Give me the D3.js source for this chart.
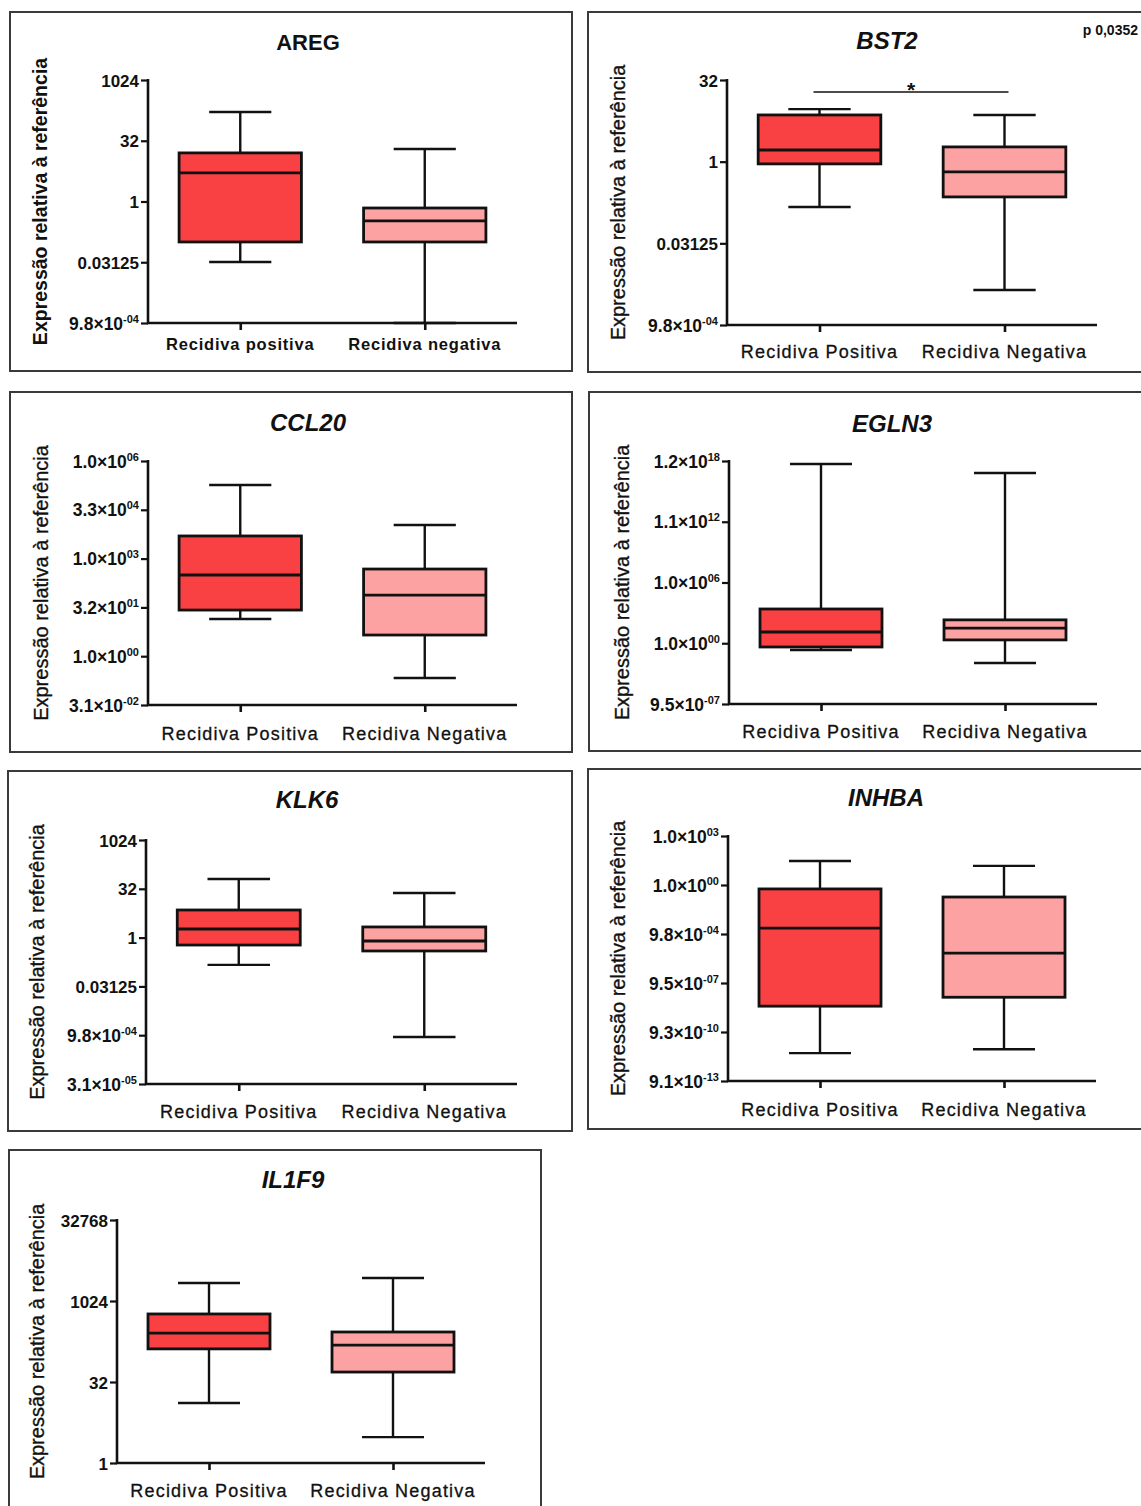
<!DOCTYPE html>
<html>
<head>
<meta charset="utf-8">
<script src="https://cdn.jsdelivr.net/npm/d3@7"></script>
<style>
  html, body { margin: 0; padding: 0; background: #fff; }
  svg { display: block; }
  text { font-family: "Liberation Sans", Arial, Helvetica, sans-serif; fill: #111; }
</style>
</head>
<body>
<svg id="chart" width="1141" height="1506"></svg>
<script>
// ---------- DATA ----------
const categories = ["Recidiva Positiva", "Recidiva Negativa"];
const aregCategories = ["Recidiva positiva", "Recidiva negativa"];

// box stats: [min, Q1, median, Q3, max]
const aregPositive = [0.0317, 0.0994, 5.10, 16.0, 165];
const aregNegative = [0.000977, 0.0994, 0.33, 0.69, 20.0];
const bst2Positive = [0.146, 0.91, 1.64, 7.26, 9.3];
const bst2Negative = [0.0043, 0.224, 0.646, 1.87, 7.26];
const ccl20Positive = [14.0, 26.5, 320, 5110, 190000];
const ccl20Negative = [0.213, 4.5, 77, 488, 11100];
const egln3Positive = [0.218, 0.426, 13, 2490, 5.76e17];
const egln3Negative = [0.011, 2.14, 32, 208, 7.5e16];
const klk6Positive = [0.144, 0.59, 1.84, 7.1, 64];
const klk6Negative = [0.00086, 0.387, 0.785, 2.13, 23.8];
const inhbaPositive = [4.7e-11, 3.6e-8, 0.00224, 0.574, 29.9];
const inhbaNegative = [8.2e-11, 1.27e-7, 6.55e-5, 0.183, 14.9];
const il1f9Positive = [13, 132, 260, 588, 2210];
const il1f9Negative = [3.03, 49, 155, 272, 2740];

// tick values and labels ("^" marks a superscript exponent)
const aregTickValues = [2 ** -10, 2 ** -5, 1, 32, 1024];
const aregTickLabels = ["9.8×10^-04", "0.03125", "1", "32", "1024"];
const bst2TickValues = [2 ** -10, 2 ** -5, 1, 32];
const bst2TickLabels = ["9.8×10^-04", "0.03125", "1", "32"];
const ccl20TickValues = [2 ** -5, 2 ** 0, 2 ** 5, 2 ** 10, 2 ** 15, 2 ** 20];
const ccl20TickLabels = ["3.1×10^-02", "1.0×10^00", "3.2×10^01", "1.0×10^03", "3.3×10^04", "1.0×10^06"];
const egln3TickValues = [2 ** -20, 2 ** 0, 2 ** 20, 2 ** 40, 2 ** 60];
const egln3TickLabels = ["9.5×10^-07", "1.0×10^00", "1.0×10^06", "1.1×10^12", "1.2×10^18"];
const klk6TickValues = [2 ** -15, 2 ** -10, 2 ** -5, 1, 32, 1024];
const klk6TickLabels = ["3.1×10^-05", "9.8×10^-04", "0.03125", "1", "32", "1024"];
const inhbaTickValues = [2 ** -40, 2 ** -30, 2 ** -20, 2 ** -10, 2 ** 0, 2 ** 10];
const inhbaTickLabels = ["9.1×10^-13", "9.3×10^-10", "9.5×10^-07", "9.8×10^-04", "1.0×10^00", "1.0×10^03"];
const il1f9TickValues = [1, 32, 1024, 32768];
const il1f9TickLabels = ["1", "32", "1024", "32768"];

const yAxisTitle = "Expressão relativa à referência";
const bst2PValue = "p 0,0352";
const bst2Star = "*";

// ---------- LAYOUT (positions / styles) ----------
const panels = [
  { title: "AREG", italic: false, titleSize: 22, cats: aregCategories, catBold: true,
    stats: [aregPositive, aregNegative], tv: aregTickValues, tl: aregTickLabels,
    frame: [10, 12, 562, 359], ax: 148, xEnd: 517, yTop: 80, yBot: 323,
    tx: 308, ty: 50, ylx: 40, catY: 350, ylBold: true },
  { title: "BST2", italic: true, titleSize: 24, cats: categories,
    stats: [bst2Positive, bst2Negative], tv: bst2TickValues, tl: bst2TickLabels,
    frame: [588, 12, 620, 360], ax: 727, xEnd: 1097, yTop: 80, yBot: 325,
    tx: 887, ty: 49, ylx: 618, catY: 358, sig: true },
  { title: "CCL20", italic: true, titleSize: 24, cats: categories,
    stats: [ccl20Positive, ccl20Negative], tv: ccl20TickValues, tl: ccl20TickLabels,
    frame: [10, 392, 562, 360], ax: 148, xEnd: 517, yTop: 461, yBot: 705,
    tx: 308, ty: 431, ylx: 41, catY: 740 },
  { title: "EGLN3", italic: true, titleSize: 24, cats: categories,
    stats: [egln3Positive, egln3Negative], tv: egln3TickValues, tl: egln3TickLabels,
    frame: [589, 392, 620, 359], ax: 729, xEnd: 1097, yTop: 461, yBot: 704,
    tx: 892, ty: 432, ylx: 622, catY: 738 },
  { title: "KLK6", italic: true, titleSize: 24, cats: categories,
    stats: [klk6Positive, klk6Negative], tv: klk6TickValues, tl: klk6TickLabels,
    frame: [8, 771, 564, 360], ax: 146, xEnd: 517, yTop: 840, yBot: 1084,
    tx: 307, ty: 808, ylx: 37, catY: 1118 },
  { title: "INHBA", italic: true, titleSize: 24, cats: categories,
    stats: [inhbaPositive, inhbaNegative], tv: inhbaTickValues, tl: inhbaTickLabels,
    frame: [588, 769, 620, 360], ax: 728, xEnd: 1096, yTop: 836, yBot: 1081,
    tx: 886, ty: 806, ylx: 618, catY: 1116 },
  { title: "IL1F9", italic: true, titleSize: 24, cats: categories,
    stats: [il1f9Positive, il1f9Negative], tv: il1f9TickValues, tl: il1f9TickLabels,
    frame: [9, 1150, 532, 420], ax: 117, xEnd: 485, yTop: 1220, yBot: 1463,
    tx: 293, ty: 1188, ylx: 37, catY: 1497 }
];

const fills = ["#f94143", "#fca2a2"];

const svg = d3.select("#chart");

panels.forEach(p => {
  const g = svg.append("g");

  // frame
  g.append("rect")
    .attr("x", p.frame[0]).attr("y", p.frame[1])
    .attr("width", p.frame[2]).attr("height", p.frame[3])
    .attr("fill", "none").attr("stroke", "#3a3a3a").attr("stroke-width", 2);

  const y = d3.scaleLog().base(2)
    .domain([p.tv[0], p.tv[p.tv.length - 1]])
    .range([p.yBot, p.yTop]);
  const x = d3.scalePoint().domain(p.cats).range([p.ax, p.xEnd]).padding(0.5);
  const step = x.step();
  const boxW = step * 0.663;
  const capW = step * 0.337;

  // title
  g.append("text")
    .attr("x", p.tx).attr("y", p.ty)
    .attr("text-anchor", "middle")
    .style("font-size", p.titleSize + "px")
    .style("font-weight", "bold")
    .style("font-style", p.italic ? "italic" : "normal")
    .text(p.title);

  // y axis title
  g.append("text")
    .attr("transform", `translate(${p.ylx},${(p.yTop + p.yBot) / 2}) rotate(-90)`)
    .attr("text-anchor", "middle")
    .attr("dominant-baseline", "central")
    .style("font-size", p.ylBold ? "19.5px" : "20px")
    .style("font-weight", p.ylBold ? "bold" : "normal")
    .style("stroke", p.ylBold ? "none" : "#111")
    .style("stroke-width", p.ylBold ? 0 : 0.35)
    .text(yAxisTitle);

  // y axis (d3 axis, custom labels)
  const yAxis = d3.axisLeft(y).tickValues(p.tv).tickSize(7).tickPadding(3).tickFormat(() => "");
  const ya = g.append("g").attr("transform", `translate(${p.ax},0)`).call(yAxis);
  ya.select(".domain").remove();
  ya.selectAll(".tick line").attr("stroke", "#111").attr("stroke-width", 2.2);
  ya.append("line").attr("x1", 0).attr("x2", 0).attr("y1", p.yTop - 1).attr("y2", p.yBot + 1)
    .attr("stroke", "#111").attr("stroke-width", 2.6);

  ya.selectAll(".tick").each(function (d) {
    const lab = p.tl[p.tv.indexOf(d)];
    const parts = lab.split("^");
    const t = d3.select(this).select("text")
      .attr("x", -9).attr("dy", null).attr("y", 0)
      .attr("dominant-baseline", "central")
      .attr("text-anchor", "end")
      .style("font-size", parts.length > 1 ? "17.5px" : "17px")
      .style("font-weight", "bold")
      .attr("fill", "#111")
      .text(null);
    t.append("tspan").text(parts[0]);
    if (parts.length > 1) {
      t.append("tspan").attr("dy", -5).style("font-size", "11px").text(parts[1]);
    }
  });

  // x axis
  const xAxis = d3.axisBottom(x).tickSize(7).tickFormat(() => "");
  const xa = g.append("g").attr("transform", `translate(0,${p.yBot})`).call(xAxis);
  xa.select(".domain").remove();
  xa.selectAll(".tick line").attr("stroke", "#111").attr("stroke-width", 2.6);
  xa.append("line").attr("x1", p.ax - 1).attr("x2", p.xEnd).attr("y1", 0).attr("y2", 0)
    .attr("stroke", "#111").attr("stroke-width", 2.6);

  // category labels
  g.selectAll(".cat").data(p.cats).enter().append("text")
    .attr("x", d => x(d)).attr("y", p.catY)
    .attr("text-anchor", "middle")
    .style("font-size", p.catBold ? "16.5px" : "18px")
    .style("font-weight", p.catBold ? "bold" : "normal")
    .style("letter-spacing", p.catBold ? "0.8px" : "1.2px")
    .style("stroke", p.catBold ? "none" : "#111")
    .style("stroke-width", p.catBold ? 0 : 0.3)
    .text(d => d);

  // boxes
  p.stats.forEach((s, i) => {
    const cx = x(p.cats[i]);
    const [mn, q1, md, q3, mx] = s;
    const bg = g.append("g");
    // whiskers
    bg.append("line").attr("x1", cx).attr("x2", cx).attr("y1", y(q3)).attr("y2", y(mx))
      .attr("stroke", "#111").attr("stroke-width", 2.4);
    bg.append("line").attr("x1", cx).attr("x2", cx).attr("y1", y(q1)).attr("y2", y(mn))
      .attr("stroke", "#111").attr("stroke-width", 2.4);
    bg.append("line").attr("x1", cx - capW / 2).attr("x2", cx + capW / 2).attr("y1", y(mx)).attr("y2", y(mx))
      .attr("stroke", "#111").attr("stroke-width", 2.4);
    bg.append("line").attr("x1", cx - capW / 2).attr("x2", cx + capW / 2).attr("y1", y(mn)).attr("y2", y(mn))
      .attr("stroke", "#111").attr("stroke-width", 2.4);
    // box
    bg.append("rect")
      .attr("x", cx - boxW / 2).attr("y", y(q3))
      .attr("width", boxW).attr("height", y(q1) - y(q3))
      .attr("fill", fills[i]).attr("stroke", "#111").attr("stroke-width", 2.8);
    // median
    bg.append("line").attr("x1", cx - boxW / 2).attr("x2", cx + boxW / 2).attr("y1", y(md)).attr("y2", y(md))
      .attr("stroke", "#111").attr("stroke-width", 2.8);
  });

  // significance annotation
  if (p.sig) {
    const x1 = x(p.cats[0]) - 6, x2 = x(p.cats[1]) + 4;
    const ys = p.yTop + 12;
    g.append("line").attr("x1", x1).attr("x2", x2).attr("y1", ys).attr("y2", ys)
      .attr("stroke", "#111").attr("stroke-width", 1.6);
    g.append("text").attr("x", (x1 + x2) / 2).attr("y", ys + 5)
      .attr("text-anchor", "middle")
      .style("font-size", "21px").style("font-weight", "bold")
      .text(bst2Star);
    g.append("text").attr("x", p.frame[0] + 550).attr("y", p.frame[1] + 23)
      .attr("text-anchor", "end")
      .style("font-size", "14px").style("font-weight", "bold")
      .text(bst2PValue);
  }
});
</script>
</body>
</html>
